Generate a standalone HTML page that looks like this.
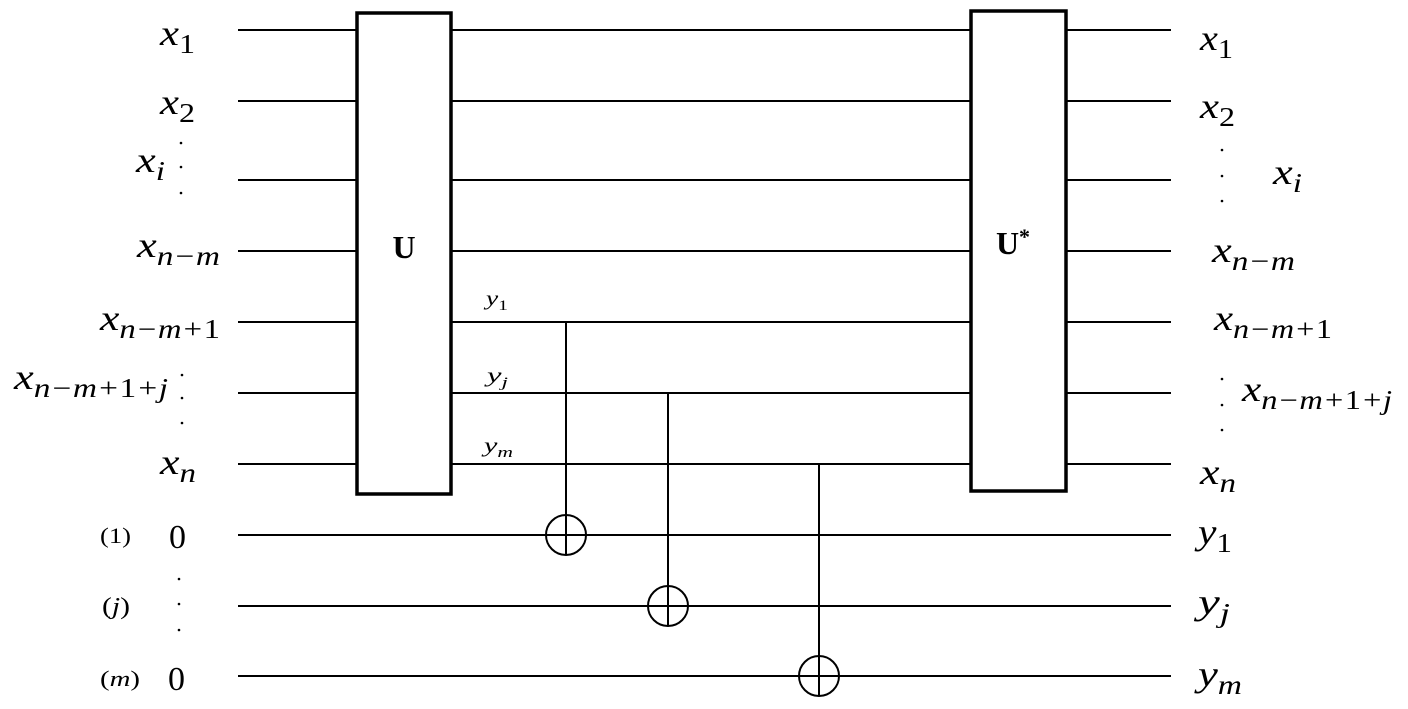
<!DOCTYPE html>
<html><head><meta charset="utf-8"><style>
html,body{margin:0;padding:0;background:#fff;}
svg{display:block;font-family:"Liberation Serif",serif;}
.m{font-style:italic;font-size:36px;}
.s{font-size:27px;}
.d{font-style:normal;}
.sm{font-style:italic;font-size:21px;}
</style></head><body>
<svg width="1408" height="709" viewBox="0 0 1408 709">
<g id="wires"></g>
<g id="gates"></g>
<g>
<rect x="357" y="13" width="94" height="481" fill="#fff" stroke="#000" stroke-width="3.5"/>
<text x="404" y="258" text-anchor="middle" font-weight="bold" font-size="32">U</text></g>
<g>
<rect x="971" y="11" width="95" height="480" fill="#fff" stroke="#000" stroke-width="3.5"/>
<text x="1013" y="254" text-anchor="middle" font-weight="bold" font-size="32">U<tspan dy="-10" font-size="22">*</tspan></text></g>
<g>
<text class="m" x="160" y="45" textLength="35" lengthAdjust="spacingAndGlyphs">x<tspan class="s d" dy="8">1</tspan></text>
<text class="m" x="160" y="114" textLength="35" lengthAdjust="spacingAndGlyphs">x<tspan class="s d" dy="8">2</tspan></text>
<text class="m" x="136" y="172" textLength="29" lengthAdjust="spacingAndGlyphs">x<tspan class="s" dy="8">i</tspan></text>
<text class="m" x="137" y="257" textLength="83" lengthAdjust="spacingAndGlyphs">x<tspan class="s" dy="8">n−m</tspan></text>
<text class="m" x="100" y="330" textLength="120" lengthAdjust="spacingAndGlyphs">x<tspan class="s" dy="8">n−m+<tspan class="d">1</tspan></tspan></text>
<text class="m" x="14" y="389" textLength="154" lengthAdjust="spacingAndGlyphs">x<tspan class="s" dy="8">n−m+<tspan class="d">1</tspan>+j</tspan></text>
<text class="m" x="160" y="474" textLength="36" lengthAdjust="spacingAndGlyphs">x<tspan class="s" dy="8">n</tspan></text>
<text font-size="22" x="100" y="543" textLength="31" lengthAdjust="spacingAndGlyphs">(1)</text>
<text font-size="24" x="102" y="614" textLength="28" lengthAdjust="spacingAndGlyphs">(<tspan font-style="italic">j</tspan>)</text>
<text font-size="22" x="100" y="686" textLength="40" lengthAdjust="spacingAndGlyphs">(<tspan font-style="italic">m</tspan>)</text>
<text font-size="34" x="169" y="548">0</text>
<text font-size="34" x="168" y="690">0</text>
</g>
<g>
<text class="m" x="1200" y="50" textLength="33" lengthAdjust="spacingAndGlyphs">x<tspan class="s d" dy="8">1</tspan></text>
<text class="m" x="1200" y="118" textLength="35" lengthAdjust="spacingAndGlyphs">x<tspan class="s d" dy="8">2</tspan></text>
<text class="m" x="1273" y="184" textLength="29" lengthAdjust="spacingAndGlyphs">x<tspan class="s" dy="8">i</tspan></text>
<text class="m" x="1212" y="262" textLength="83" lengthAdjust="spacingAndGlyphs">x<tspan class="s" dy="8">n−m</tspan></text>
<text class="m" x="1214" y="330" textLength="118" lengthAdjust="spacingAndGlyphs">x<tspan class="s" dy="8">n−m+<tspan class="d">1</tspan></tspan></text>
<text class="m" x="1242" y="401" textLength="150" lengthAdjust="spacingAndGlyphs">x<tspan class="s" dy="8">n−m+<tspan class="d">1</tspan>+j</tspan></text>
<text class="m" x="1200" y="484" textLength="36" lengthAdjust="spacingAndGlyphs">x<tspan class="s" dy="8">n</tspan></text>
<text class="m" x="1198" y="544" textLength="34" lengthAdjust="spacingAndGlyphs">y<tspan class="s d" dy="8">1</tspan></text>
<text class="m" x="1198" y="614" textLength="32" lengthAdjust="spacingAndGlyphs">y<tspan class="s" dy="8">j</tspan></text>
<text class="m" x="1198" y="686" textLength="44" lengthAdjust="spacingAndGlyphs">y<tspan class="s" dy="8">m</tspan></text>
</g>
<g>
<text class="sm" x="486" y="305" textLength="22" lengthAdjust="spacingAndGlyphs">y<tspan font-size="15" font-style="normal" dy="5">1</tspan></text>
<text class="sm" x="487" y="382" textLength="21" lengthAdjust="spacingAndGlyphs">y<tspan font-size="15" dy="5">j</tspan></text>
<text class="sm" x="484" y="452" textLength="29" lengthAdjust="spacingAndGlyphs">y<tspan font-size="15" dy="5">m</tspan></text>
</g>
<g fill="#000">
<circle cx="181" cy="143" r="1.3"/><circle cx="181" cy="167" r="1.3"/><circle cx="181" cy="193" r="1.3"/>
<circle cx="182" cy="375" r="1.3"/><circle cx="182" cy="398" r="1.3"/><circle cx="182" cy="423" r="1.3"/>
<circle cx="179" cy="579" r="1.3"/><circle cx="179" cy="604" r="1.3"/><circle cx="179" cy="630" r="1.3"/>
<circle cx="1222" cy="150" r="1.3"/><circle cx="1222" cy="176" r="1.3"/><circle cx="1222" cy="201" r="1.3"/>
<circle cx="1222" cy="379" r="1.3"/><circle cx="1222" cy="405" r="1.3"/><circle cx="1222" cy="430" r="1.3"/>
</g>
</svg>
<script>
const wireY=[30,101,180,251,322,393,464,535,606,676];
const cnotControl=[322,393,464];
const cnotTarget=[535,606,676];
const cnotX=[566,668,819];
const NS='http://www.w3.org/2000/svg';
const wg=document.getElementById('wires');
wireY.forEach((y,i)=>{
  const l=document.createElementNS(NS,'line');
  l.setAttribute('x1',238);l.setAttribute('x2',1171);
  l.setAttribute('y1',y);l.setAttribute('y2',y);
  l.setAttribute('stroke','#000');l.setAttribute('stroke-width',2);
  
  
  wg.appendChild(l);
});
const gg=document.getElementById('gates');
cnotX.forEach((x,i)=>{
  const g=document.createElementNS(NS,'g');
  
  
  const ty=cnotTarget[i],r=20;
  g.innerHTML=`<line x1="${x}" x2="${x}" y1="${cnotControl[i]}" y2="${ty+r}" stroke="#000" stroke-width="2"/>`+
    `<circle cx="${x}" cy="${ty}" r="${r}" fill="none" stroke="#000" stroke-width="2"/>`+
    `<line x1="${x-r}" x2="${x+r}" y1="${ty}" y2="${ty}" stroke="#000" stroke-width="2"/>`;
  gg.appendChild(g);
});
</script>
</body></html>
